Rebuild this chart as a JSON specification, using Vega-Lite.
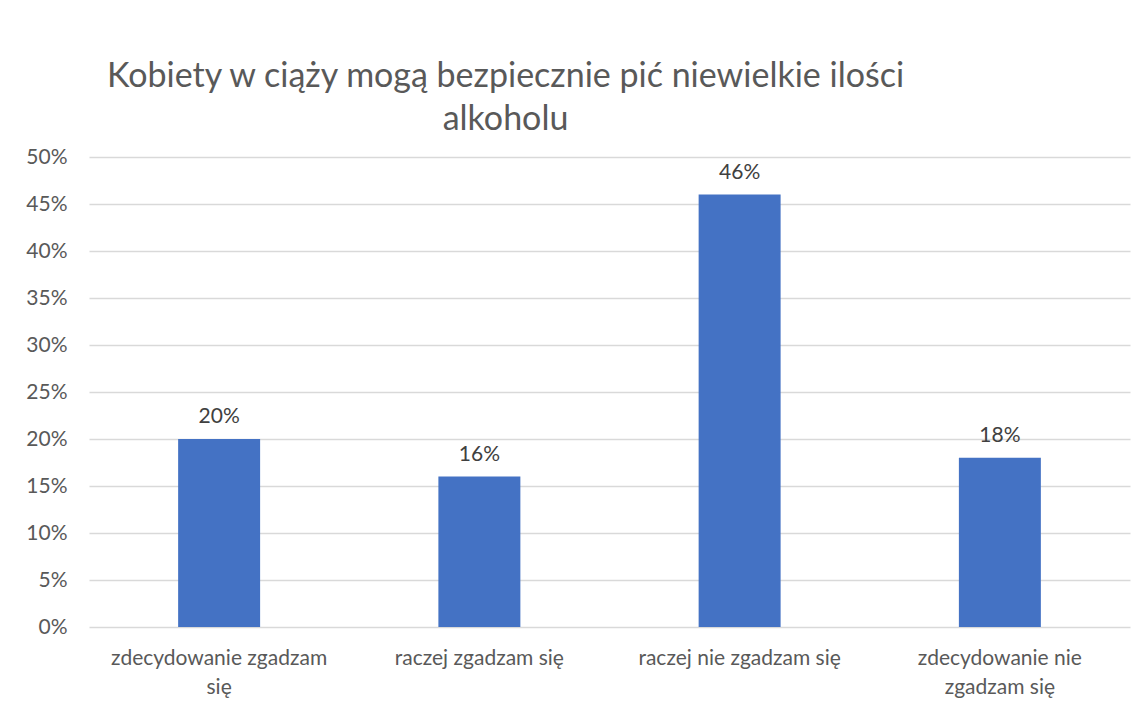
{
  "$schema": "https://vega.github.io/schema/vega-lite/v6.json",
  "width": 1041,
  "height": 470,
  "autosize": {"type": "none"},
  "padding": {"left": 89, "top": 157, "right": 18, "bottom": 84},
  "background": "white",
  "title": {
    "text": ["Kobiety w ciąży mogą bezpiecznie pić niewielkie ilości", "alkoholu"],
    "anchor": "middle",
    "frame": "group",
    "dx": -104,
    "offset": 9,
    "font": "Lato",
    "fontSize": 34,
    "fontWeight": "normal",
    "color": "#595959",
    "lineHeight": 43
  },
  "data": {
    "values": [
      {"kategoria": "zdecydowanie zgadzam się", "wartosc": 0.20},
      {"kategoria": "raczej zgadzam się", "wartosc": 0.16},
      {"kategoria": "raczej nie zgadzam się", "wartosc": 0.46},
      {"kategoria": "zdecydowanie nie zgadzam się", "wartosc": 0.18}
    ]
  },
  "encoding": {
    "x": {
      "field": "kategoria",
      "type": "nominal",
      "sort": null,
      "scale": {"paddingInner": 0.685, "paddingOuter": 0.3425},
      "axis": {
        "title": null,
        "labelAngle": 0,
        "domain": false,
        "ticks": false,
        "labelPadding": 20,
        "labelFont": "Lato",
        "labelFontSize": 21,
        "labelLimit": 400,
        "labelColor": "#595959",
        "labelLineHeight": 29,
        "labelExpr": "datum.value == 'zdecydowanie zgadzam się' ? ['zdecydowanie zgadzam', 'się'] : datum.value == 'zdecydowanie nie zgadzam się' ? ['zdecydowanie nie', 'zgadzam się'] : datum.value"
      }
    },
    "y": {
      "field": "wartosc",
      "type": "quantitative",
      "scale": {"domain": [0, 0.5]},
      "axis": {
        "title": null,
        "format": ".0%",
        "values": [0, 0.05, 0.1, 0.15, 0.2, 0.25, 0.3, 0.35, 0.4, 0.45, 0.5],
        "domain": false,
        "ticks": false,
        "labelPadding": 22,
        "labelFont": "Lato",
        "labelFontSize": 21,
        "labelColor": "#595959",
        "gridColor": "#d9d9d9",
        "gridWidth": 1.5
      }
    }
  },
  "layer": [
    {"mark": {"type": "bar", "color": "#4472C4"}},
    {
      "mark": {"type": "text", "baseline": "bottom", "dy": -12, "font": "Lato", "fontSize": 21, "color": "#404040"},
      "encoding": {"text": {"field": "wartosc", "type": "quantitative", "format": ".0%"}}
    }
  ],
  "config": {"view": {"stroke": null}}
}
